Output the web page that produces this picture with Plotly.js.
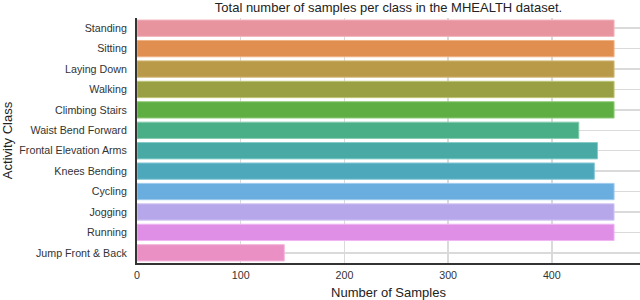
<!DOCTYPE html>
<html><head><meta charset="utf-8">
<script src="https://cdn.plot.ly/plotly-3.0.1.min.js"></script>
<style>html,body{margin:0;padding:0;background:#fff}#chart{width:640px;height:300px}</style>
</head><body><div id="chart"></div>
<script>
const categories = ["Standing","Sitting","Laying Down","Walking","Climbing Stairs","Waist Bend Forward","Frontal Elevation Arms","Knees Bending","Cycling","Jogging","Running","Jump Front & Back"];
const samples = [460,460,460,460,460,426,444,441,460,460,460,142];
const colors = ["#e8949f","#e08f51","#b89a48","#99a044","#5fae44","#4aae87","#49aaa5","#4ea8bc","#6aaee0","#b6a7ea","#df8fe6","#ea90c5"];
const edgeColors = ["#f2b6bf","#efb283","#d4bb7a","#bfc477","#93cc7c","#86cdb0","#86cbc8","#89c8d8","#9dcbee","#d3c8f3","#efb6f2","#f4b6db"];

const trace = {
  type: "bar", orientation: "h",
  x: samples, y: categories,
  marker: {color: colors, line: {color: edgeColors, width: 1}},
  hoverinfo: "x+y"
};
const layout = {
  width: 640, height: 300,
  margin: {l: 137, r: 0, t: 18, b: 37, pad: 0},
  paper_bgcolor: "#fff", plot_bgcolor: "#fff",
  font: {family: "Liberation Sans, Arial, sans-serif", size: 10.7, color: "#333"},
  title: {text: "Total number of samples per class in the MHEALTH dataset.", font: {size: 13, color: "#222"}, x: 0.607, xanchor: "center", y: 0.975, yanchor: "middle"},
  bargap: 0.2,
  showlegend: false,
  xaxis: {
    range: [0, 485], tickvals: [0,100,200,300,400], ticktext: ["0","100","200","300","400"],
    showgrid: true, gridcolor: "#dadada", gridwidth: 1.5,
    showline: true, linecolor: "#333", linewidth: 2, zeroline: false,
    ticks: "", ticklabelstandoff: 1,
    title: {text: "Number of Samples", font: {size: 13, color: "#222"}, standoff: 8}
  },
  yaxis: {
    type: "category", autorange: "reversed",
    showgrid: true, gridcolor: "#dadada", gridwidth: 1.5,
    showline: true, linecolor: "#333", linewidth: 2, zeroline: false,
    ticks: "", ticklabelstandoff: 6,
    title: {text: "Activity Class", font: {size: 13, color: "#222"}, standoff: 8}
  }
};
Plotly.newPlot("chart", [trace], layout, {displayModeBar: false, staticPlot: true});
</script></body></html>
